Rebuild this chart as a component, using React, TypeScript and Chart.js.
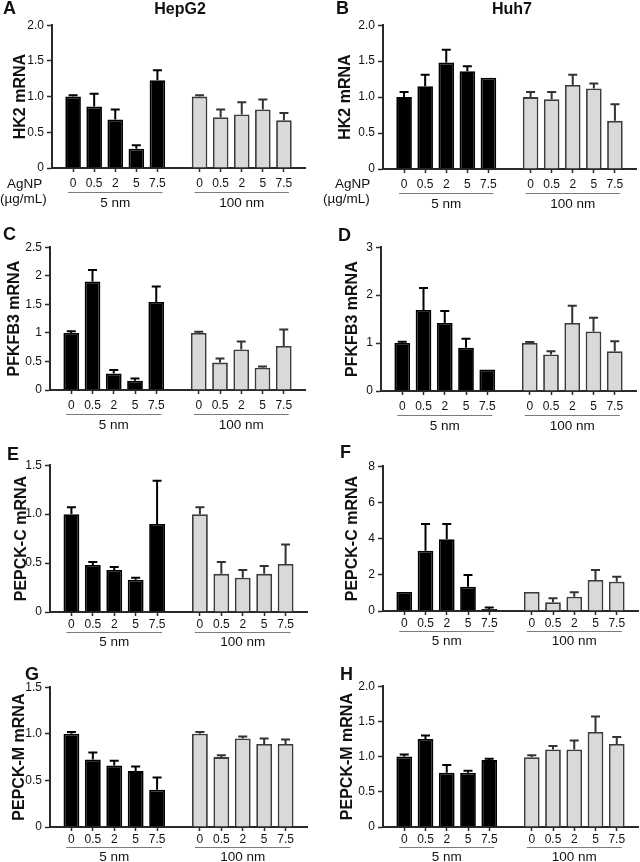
import React, { useEffect, useRef } from "react";
import { Chart, registerables } from "chart.js";

Chart.register(...registerables);

// ---------- data ----------
const doses = ["0", "0.5", "2", "5", "7.5"];
const groupNames = ["5 nm", "100 nm"];

// HK2 – HepG2 (A)
const hk2HepG2_5 = [1.0, 0.86, 0.68, 0.27, 1.23];
const hk2HepG2_5Err = [0.02, 0.18, 0.14, 0.05, 0.14];
const hk2HepG2_100 = [1.0, 0.71, 0.75, 0.82, 0.67];
const hk2HepG2_100Err = [0.02, 0.11, 0.17, 0.14, 0.1];
// HK2 – Huh7 (B)
const hk2Huh7_5 = [1.0, 1.15, 1.48, 1.36, 1.27];
const hk2Huh7_5Err = [0.07, 0.16, 0.18, 0.07, 0];
const hk2Huh7_100 = [1.0, 0.97, 1.17, 1.12, 0.67];
const hk2Huh7_100Err = [0.07, 0.1, 0.14, 0.07, 0.23];
// PFKFB3 – HepG2 (C)
const pfkHepG2_5 = [1.0, 1.9, 0.29, 0.16, 1.54];
const pfkHepG2_5Err = [0.03, 0.2, 0.06, 0.04, 0.27];
const pfkHepG2_100 = [1.0, 0.48, 0.71, 0.39, 0.77];
const pfkHepG2_100Err = [0.02, 0.07, 0.14, 0.02, 0.29];
// PFKFB3 – Huh7 (D)
const pfkHuh7_5 = [1.0, 1.69, 1.42, 0.9, 0.45];
const pfkHuh7_5Err = [0.03, 0.46, 0.25, 0.19, 0];
const pfkHuh7_100 = [1.0, 0.76, 1.42, 1.24, 0.83];
const pfkHuh7_100Err = [0.02, 0.07, 0.36, 0.29, 0.21];
// PEPCK-C – HepG2 (E)
const pcHepG2_5 = [1.0, 0.48, 0.43, 0.33, 0.9];
const pcHepG2_5Err = [0.07, 0.03, 0.03, 0.02, 0.44];
const pcHepG2_100 = [1.0, 0.39, 0.35, 0.39, 0.49];
const pcHepG2_100Err = [0.07, 0.12, 0.08, 0.08, 0.2];
// PEPCK-C – Huh7 (F)
const pcHuh7_5 = [1.05, 3.33, 3.97, 1.34, 0.11];
const pcHuh7_5Err = [0, 1.47, 0.83, 0.65, 0.09];
const pcHuh7_100 = [1.05, 0.48, 0.79, 1.71, 1.62];
const pcHuh7_100Err = [0, 0.22, 0.24, 0.55, 0.27];
// PEPCK-M – HepG2 (G)
const pmHepG2_5 = [1.0, 0.725, 0.66, 0.6, 0.4];
const pmHepG2_5Err = [0.02, 0.075, 0.05, 0.05, 0.13];
const pmHepG2_100 = [1.0, 0.75, 0.95, 0.89, 0.89];
const pmHepG2_100Err = [0.02, 0.02, 0.02, 0.06, 0.05];
// PEPCK-M – Huh7 (H)
const pmHuh7_5 = [1.0, 1.25, 0.77, 0.77, 0.95];
const pmHuh7_5Err = [0.03, 0.05, 0.11, 0.03, 0.02];
const pmHuh7_100 = [0.99, 1.1, 1.1, 1.35, 1.18];
const pmHuh7_100Err = [0.03, 0.05, 0.13, 0.22, 0.1];

// y tick labels
const yTicksHK2 = ["0", "0.5", "1.0", "1.5", "2.0"];
const yTicksPfkHepG2 = ["0", "0.5", "1", "1.5", "2", "2.5"];
const yTicksPfkHuh7 = ["0", "1", "2", "3"];
const yTicksPcHepG2 = ["0", "0.5", "1.0", "1.5"];
const yTicksPcHuh7 = ["0", "2", "4", "6", "8"];
const yTicksPmHepG2 = ["0", "0.5", "1.0", "1.5"];
const yTicksPmHuh7 = ["0", "0.5", "1.0", "1.5", "2.0"];

// ---------- styles ----------
const FONT = "'Liberation Sans', Arial, Helvetica, sans-serif";
const BLACK = "#000000";
const GREY = "#d9d9d9";
const GREY_BORDER = "#3c3c3c";
const AXIS = "#2a2a2a";
const TEXT = "#111111";

type Panel = {
  key: string;
  gene: string;
  m5: number[]; e5: number[]; m100: number[]; e100: number[];
  yMax: number; yStep: number; yLabels: string[];
  L: number; T: number; R: number; B: number; titleX: number; row: number;
};

const panels: Panel[] = [
  { key: "A", gene: "HK2 mRNA", m5: hk2HepG2_5, e5: hk2HepG2_5Err, m100: hk2HepG2_100, e100: hk2HepG2_100Err, yMax: 2, yStep: 0.5, yLabels: yTicksHK2, L: 52, T: 25, R: 307, B: 168, titleX: 20.5, row: 1 },
  { key: "B", gene: "HK2 mRNA", m5: hk2Huh7_5, e5: hk2Huh7_5Err, m100: hk2Huh7_100, e100: hk2Huh7_100Err, yMax: 2, yStep: 0.5, yLabels: yTicksHK2, L: 383, T: 25, R: 638, B: 169, titleX: 345.5, row: 1 },
  { key: "C", gene: "PFKFB3 mRNA", m5: pfkHepG2_5, e5: pfkHepG2_5Err, m100: pfkHepG2_100, e100: pfkHepG2_100Err, yMax: 2.5, yStep: 0.5, yLabels: yTicksPfkHepG2, L: 50, T: 247, R: 307, B: 390, titleX: 14.5, row: 1 },
  { key: "D", gene: "PFKFB3 mRNA", m5: pfkHuh7_5, e5: pfkHuh7_5Err, m100: pfkHuh7_100, e100: pfkHuh7_100Err, yMax: 3, yStep: 1, yLabels: yTicksPfkHuh7, L: 381, T: 247, R: 638, B: 391, titleX: 352.5, row: 1 },
  { key: "E", gene: "PEPCK-C mRNA", m5: pcHepG2_5, e5: pcHepG2_5Err, m100: pcHepG2_100, e100: pcHepG2_100Err, yMax: 1.5, yStep: 0.5, yLabels: yTicksPcHepG2, L: 50, T: 465, R: 307, B: 612, titleX: 21.5, row: 2 },
  { key: "F", gene: "PEPCK-C mRNA", m5: pcHuh7_5, e5: pcHuh7_5Err, m100: pcHuh7_100, e100: pcHuh7_100Err, yMax: 8, yStep: 2, yLabels: yTicksPcHuh7, L: 383, T: 466, R: 638, B: 611, titleX: 352.5, row: 2 },
  { key: "G", gene: "PEPCK-M mRNA", m5: pmHepG2_5, e5: pmHepG2_5Err, m100: pmHepG2_100, e100: pmHepG2_100Err, yMax: 1.5, yStep: 0.5, yLabels: yTicksPmHepG2, L: 50, T: 687, R: 307, B: 827, titleX: 19.5, row: 2 },
  { key: "H", gene: "PEPCK-M mRNA", m5: pmHuh7_5, e5: pmHuh7_5Err, m100: pmHuh7_100, e100: pmHuh7_100Err, yMax: 2, yStep: 0.5, yLabels: yTicksPmHuh7, L: 383, T: 686, R: 638, B: 827, titleX: 347.5, row: 2 },
];

const PAD_TOP = 10;
const X_AXIS_H = 40;
const TITLE_HALF = 16 * 1.2 / 2;

const errorBarPlugin = {
  id: "errorBars",
  afterDatasetsDraw(chart: any, _args: any, opts: any) {
    const { ctx } = chart;
    const meta = chart.getDatasetMeta(0);
    const yScale = chart.scales.y;
    const data = chart.data.datasets[0].data;
    ctx.save();
    meta.data.forEach((bar: any, i: number) => {
      const v = data[i];
      const e = opts.errors[i];
      if (v == null || e == null || e <= 0) return;
      const x = bar.x;
      const y0 = yScale.getPixelForValue(v);
      const y1 = yScale.getPixelForValue(v + e);
      ctx.strokeStyle = opts.colors[i];
      ctx.lineWidth = 2;
      ctx.beginPath();
      ctx.moveTo(x, y0);
      ctx.lineTo(x, y1);
      ctx.moveTo(x - 4.5, y1);
      ctx.lineTo(x + 4.5, y1);
      ctx.stroke();
    });
    ctx.restore();
  },
};

const groupPlugin = {
  id: "groupLabels",
  afterDraw(chart: any, _args: any, opts: any) {
    const { ctx } = chart;
    const xs = chart.scales.x;
    const bottom = chart.chartArea.bottom;
    ctx.save();
    opts.groups.forEach((g: any) => {
      const x0 = xs.getPixelForValue(g.start) - 5;
      const x1 = xs.getPixelForValue(g.end) + 5;
      ctx.strokeStyle = "#7a7a7a";
      ctx.lineWidth = 1;
      ctx.beginPath();
      ctx.moveTo(x0, bottom + opts.lineOff + 0.5);
      ctx.lineTo(x1, bottom + opts.lineOff + 0.5);
      ctx.stroke();
      ctx.fillStyle = TEXT;
      ctx.font = `13.5px ${FONT}`;
      ctx.textAlign = "center";
      ctx.textBaseline = "alphabetic";
      ctx.fillText(g.label, (x0 + x1) / 2, bottom + opts.textOff);
    });
    ctx.restore();
  },
};

function PanelChart({ p }: { p: Panel }) {
  const ref = useRef<HTMLCanvasElement>(null);
  const left = Math.round(p.titleX - TITLE_HALF);
  const top = p.T - PAD_TOP;
  const width = p.R + 2 - left;
  const height = p.B - top + X_AXIS_H;
  const yWidth = p.L - left;

  useEffect(() => {
    const labels = ["", ...doses, "", ...doses, ""];
    const values = [null, ...p.m5, null, ...p.m100, null];
    const errors = [null, ...p.e5, null, ...p.e100, null];
    const fills = ["", ...doses.map(() => BLACK), "", ...doses.map(() => GREY), ""];
    const borders = ["", ...doses.map(() => BLACK), "", ...doses.map(() => GREY_BORDER), ""];
    const errColors = ["", ...doses.map(() => BLACK), "", ...doses.map(() => "#333333"), ""];
    const g1Start = 1, g1End = doses.length;
    const g2Start = doses.length + 2, g2End = doses.length * 2 + 1;
    const row1 = p.row === 1;

    const chart = new Chart(ref.current as HTMLCanvasElement, {
      type: "bar",
      data: {
        labels,
        datasets: [
          {
            data: values as any,
            backgroundColor: fills,
            borderColor: borders,
            borderWidth: 1.8,
            barPercentage: 0.74,
            categoryPercentage: 1,
          },
        ],
      },
      options: {
        animation: false,
        responsive: false,
        maintainAspectRatio: false,
        layout: { padding: { top: PAD_TOP, right: 2, left: 0, bottom: 0 } },
        plugins: {
          legend: { display: false },
          tooltip: { enabled: false },
          errorBars: { errors, colors: errColors },
          groupLabels: {
            groups: [
              { label: groupNames[0], start: g1Start, end: g1End },
              { label: groupNames[1], start: g2Start, end: g2End },
            ],
            lineOff: row1 ? 24 : 20,
            textOff: row1 ? 39 : 34,
          },
        } as any,
        scales: {
          x: {
            type: "category",
            offset: false,
            grid: {
              offset: false,
              drawOnChartArea: false,
              drawTicks: true,
              tickLength: 4,
              tickWidth: 1.5,
              tickColor: (c: any) => (labels[c.index] ? AXIS : "rgba(0,0,0,0)"),
            },
            border: { display: true, color: AXIS, width: 2 },
            ticks: {
              autoSkip: false,
              maxRotation: 0,
              minRotation: 0,
              padding: row1 ? 4 : 1,
              color: TEXT,
              font: { family: FONT, size: 12 },
            },
            afterFit: (s: any) => { s.height = X_AXIS_H; },
          },
          y: {
            min: 0,
            max: p.yMax,
            grid: {
              drawOnChartArea: false,
              drawTicks: true,
              tickLength: 5,
              tickWidth: 1.5,
              tickColor: AXIS,
            },
            border: { display: true, color: AXIS, width: 2 },
            ticks: {
              stepSize: p.yStep,
              padding: 3,
              color: TEXT,
              font: { family: FONT, size: 12 },
              callback: (_v: any, i: number) => p.yLabels[i],
            },
            title: {
              display: true,
              text: p.gene,
              color: TEXT,
              padding: 0,
              font: { family: FONT, size: 16, weight: "bold" },
            },
            afterFit: (s: any) => { s.width = yWidth; },
          },
        },
      },
      plugins: [errorBarPlugin, groupPlugin],
    });
    return () => chart.destroy();
  }, []);

  return (
    <canvas
      ref={ref}
      width={width}
      height={height}
      style={{ position: "absolute", left, top, width, height }}
    />
  );
}

function Txt({ x, base, size, bold, center, children }: any) {
  return (
    <div
      style={{
        position: "absolute",
        left: x,
        top: base - 0.847 * size,
        fontSize: size,
        lineHeight: `${size}px`,
        fontWeight: bold ? "bold" : "normal",
        fontFamily: FONT,
        color: TEXT,
        whiteSpace: "nowrap",
        transform: center ? "translateX(-50%)" : undefined,
      }}
    >
      {children}
    </div>
  );
}

export default function App() {
  return (
    <div
      style={{
        position: "absolute",
        left: 0,
        top: 0,
        width: 640,
        height: 862,
        overflow: "hidden",
        background: "#ffffff",
      }}
    >
      {panels.map((p) => (
        <PanelChart key={p.key} p={p} />
      ))}
      <Txt x={180} base={15} size={16} bold center>HepG2</Txt>
      <Txt x={512} base={15} size={16} bold center>Huh7</Txt>
      <Txt x={3} base={14} size={18} bold>A</Txt>
      <Txt x={336} base={14} size={18} bold>B</Txt>
      <Txt x={3} base={240} size={18} bold>C</Txt>
      <Txt x={338} base={241} size={18} bold>D</Txt>
      <Txt x={7} base={460} size={18} bold>E</Txt>
      <Txt x={340} base={458} size={18} bold>F</Txt>
      <Txt x={25} base={680} size={18} bold>G</Txt>
      <Txt x={340} base={680} size={18} bold>H</Txt>
      <Txt x={7} base={188} size={13.5}>AgNP</Txt>
      <Txt x={0} base={203} size={13.5}>(µg/mL)</Txt>
      <Txt x={335} base={188} size={13.5}>AgNP</Txt>
      <Txt x={323} base={203} size={13.5}>(µg/mL)</Txt>
    </div>
  );
}
